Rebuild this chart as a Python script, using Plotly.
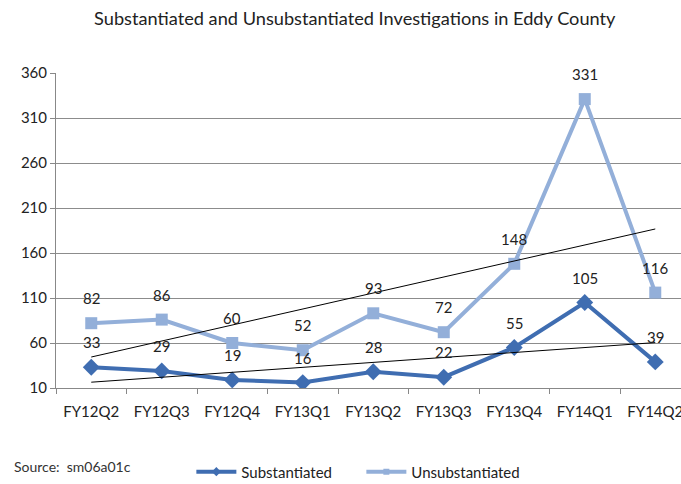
import numpy as np
import plotly.graph_objects as go

categories = ["FY12Q2", "FY12Q3", "FY12Q4", "FY13Q1", "FY13Q2", "FY13Q3", "FY13Q4", "FY14Q1", "FY14Q2"]
substantiated = [33, 29, 19, 16, 28, 22, 55, 105, 39]
unsubstantiated = [82, 86, 60, 52, 93, 72, 148, 331, 116]
y_ticks = [10, 60, 110, 160, 210, 260, 310, 360]

FONT = "Lato, Carlito, Calibri, sans-serif"
DARK = "#3F6DB1"
LIGHT = "#93AFD9"

x = np.arange(len(categories))
fig = go.Figure()

series = [
    (substantiated, "Substantiated", DARK, "diamond", 13, 7),
    (unsubstantiated, "Unsubstantiated", LIGHT, "square", 12, 6),
]
for vals, name, col, sym, sz, lsz in series:
    fig.add_trace(go.Scatter(x=x, y=vals, mode="lines+markers", name=name, showlegend=False,
                             line=dict(color=col, width=4),
                             marker=dict(symbol=sym, size=sz, color=col)))

for vals in [substantiated, unsubstantiated]:
    k, b = np.polyfit(x, vals, 1)
    xs = np.array([x[0], x[-1]])
    fig.add_trace(go.Scatter(x=xs, y=k * xs + b, mode="lines", showlegend=False,
                             line=dict(color="black", width=1), hoverinfo="skip"))

# legend entries with small markers
for vals, name, col, sym, sz, lsz in series:
    fig.add_trace(go.Scatter(x=[None], y=[None], mode="lines+markers", name=name,
                             line=dict(color=col, width=4),
                             marker=dict(symbol=sym, size=lsz, color=col)))

for vals in [substantiated, unsubstantiated]:
    for xi, v in zip(x, vals):
        fig.add_annotation(x=xi, y=v, text=str(v), showarrow=False, yshift=25,
                           font=dict(family=FONT, size=15, color="#222"))

fig.add_annotation(xref="paper", yref="paper", x=-0.0704, y=-0.25, xanchor="left", yanchor="middle",
                   text="Source:  sm06a01c", showarrow=False,
                   font=dict(family=FONT, size=14, color="#333"))

fig.update_layout(
    width=681, height=484,
    margin=dict(l=56, r=0, t=73, b=96),
    paper_bgcolor="white", plot_bgcolor="white",
    title=dict(text="Substantiated and Unsubstantiated Investigations in Eddy County",
               x=0.521, xanchor="center", y=0.961, yanchor="middle",
               font=dict(family=FONT, size=18.2, color="#222")),
    xaxis=dict(range=[-0.5, 8.365], tickvals=list(x), ticktext=categories, automargin=False,
               ticklabeloverflow="allow",
               showgrid=False, zeroline=False, showline=True, linecolor="#888", linewidth=1,
               ticks="", ticklabelstandoff=10, tickfont=dict(family=FONT, size=15, color="#222"),
               minor=dict(tick0=0.5, dtick=1, ticks="outside", ticklen=5, tickcolor="#888", showgrid=False)),
    yaxis=dict(range=[10, 360], tickvals=y_ticks, showgrid=True, gridcolor="#8C8C8C", gridwidth=1,
               zeroline=False, showline=True, linecolor="#888", linewidth=1, automargin=False,
               ticks="outside", ticklen=5, tickcolor="#888",
               tickfont=dict(family=FONT, size=15, color="#222")),
    legend=dict(orientation="h", xref="container", yref="container", x=0.281, y=0.025,
                xanchor="left", yanchor="middle", itemwidth=40,
                entrywidth=115, entrywidthmode="pixels",
                font=dict(family=FONT, size=15, color="#222")),
    showlegend=True,
)

fig.write_html("out.html", config={"displayModeBar": False},
               post_script="document.body.style.margin='0';document.body.style.padding='0';")
